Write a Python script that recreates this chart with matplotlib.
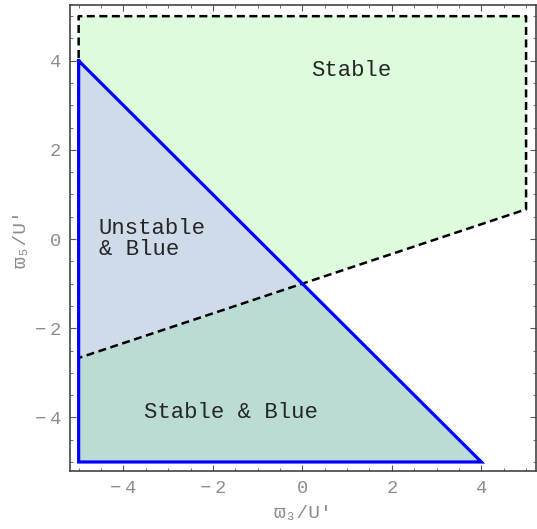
import matplotlib
matplotlib.use("Agg")
import matplotlib.pyplot as plt
from matplotlib.patches import Polygon
from matplotlib.ticker import MultipleLocator

# Region vertices (data coordinates)
stable_x = [-5, 5, 5, -5]
stable_y = [5, 5, 0.667, -2.667]
unstable_blue_x = [-5, 0, -5]
unstable_blue_y = [4, -1, -2.667]
stable_blue_x = [-5, 0, 4, -5]
stable_blue_y = [-2.667, -1, -5, -5]
blue_x = [-5, -5, 4, -5]
blue_y = [4, -5, -5, 4]
dash_x = [-5, -5, 5, 5, -5]
dash_y = [-2.667, 5, 5, 0.667, -2.667]

major_ticks = [-4, -2, 0, 2, 4]
tick_labels = ["\u2212\u20094", "\u2212\u20092", "0", "2", "4"]
labels = ["Stable", "Unstable\n& Blue", "Stable & Blue"]

mono = ["Liberation Mono", "DejaVu Sans Mono", "DejaVu Sans"]
tick_fam = ["Liberation Mono", "DejaVu Sans", "DejaVu Sans Mono"]

fig = plt.figure(figsize=(5.37, 5.29), dpi=100)
ax = fig.add_axes([0.1298, 0.109, 0.998 - 0.1298, 0.9905 - 0.109])

ax.add_patch(Polygon(list(zip(stable_x, stable_y)), closed=True,
                     facecolor="#ddfcdd", edgecolor="none"))
ax.add_patch(Polygon(list(zip(unstable_blue_x, unstable_blue_y)), closed=True,
                     facecolor="#d0dbe9", edgecolor="none"))
ax.add_patch(Polygon(list(zip(stable_blue_x, stable_blue_y)), closed=True,
                     facecolor="#badcd4", edgecolor="none"))

ax.plot(dash_x, dash_y, color="black", lw=1.8, ls=(0, (3.2, 1.8)))
ax.plot(blue_x, blue_y, color="#0000ff", lw=2.3, solid_joinstyle="miter")

ax.text(1.1, 3.79, labels[0], family=mono, fontsize=16,
        ha="center", va="center", color="#262626")
ax.text(-4.55, 0.0, labels[1], family=mono, fontsize=16,
        ha="left", va="center", color="#262626", linespacing=1.0)
ax.text(-1.6, -3.9, labels[2], family=mono, fontsize=16,
        ha="center", va="center", color="#262626")

ax.set_xlim(-5.2, 5.22)
ax.set_ylim(-5.21, 5.25)

ax.xaxis.set_minor_locator(MultipleLocator(0.5))
ax.yaxis.set_minor_locator(MultipleLocator(0.5))
ax.set_xticks(major_ticks)
ax.set_yticks(major_ticks)
ax.set_xticklabels(tick_labels)
ax.set_yticklabels(tick_labels)
ax.tick_params(which="both", direction="in", top=True, right=True,
               color="#555555", labelcolor="#8c8c8c")
ax.tick_params(which="major", length=4, width=0.8, labelsize=13.5, pad=6)
ax.tick_params(which="minor", length=2, width=0.6)
for lab in ax.get_xticklabels() + ax.get_yticklabels():
    lab.set_family(tick_fam)

for s in ax.spines.values():
    s.set_color("#444444")
    s.set_linewidth(1.2)

ax.set_xlabel("ϖ₃/U'", family=mono, fontsize=14, color="#8c8c8c", labelpad=6)
ax.set_ylabel("ϖ₅/U'", family=mono, fontsize=14, color="#8c8c8c", labelpad=4)

fig.savefig("out.png", dpi=100)
